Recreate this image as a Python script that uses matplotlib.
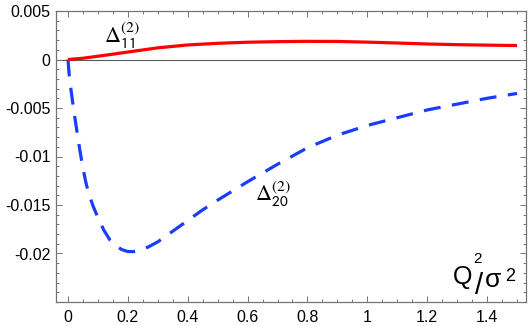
import matplotlib
matplotlib.use("Agg")
import matplotlib.pyplot as plt
from matplotlib.ticker import MultipleLocator, FuncFormatter

plt.rcParams['font.family'] = ['Liberation Sans', 'DejaVu Sans']
plt.rcParams['axes.unicode_minus'] = False
plt.rcParams['mathtext.fontset'] = 'stix'

# Data
x11 = [0, 0.05, 0.1, 0.15, 0.2, 0.3, 0.4, 0.5, 0.6, 0.7, 0.8, 0.9, 1.0,
       1.1, 1.2, 1.3, 1.4, 1.5]
d11 = [0, 0.00013, 0.00034, 0.00055, 0.00077, 0.0012, 0.0015, 0.00167,
       0.00178, 0.00184, 0.00187, 0.00186, 0.00179, 0.00170, 0.00160,
       0.00153, 0.00148, 0.00144]

x20 = [0, 0.005, 0.01, 0.02, 0.03, 0.04, 0.05, 0.06, 0.07, 0.085, 0.1, 0.12,
       0.14, 0.16, 0.18, 0.2, 0.22, 0.24, 0.27, 0.3, 0.35, 0.4, 0.45, 0.5,
       0.6, 0.7, 0.8, 0.9, 1.0, 1.1, 1.2, 1.3, 1.4, 1.5]
d20 = [0, -0.0019, -0.0031, -0.0054, -0.0074, -0.0094, -0.0112, -0.0127,
       -0.0139, -0.0152, -0.0163, -0.0176, -0.0186, -0.0192, -0.0196,
       -0.0198, -0.0198, -0.0197, -0.0193, -0.0188, -0.0177, -0.0166,
       -0.0155, -0.0145, -0.0126, -0.0108, -0.0091, -0.0078, -0.0068,
       -0.0060, -0.0052, -0.0046, -0.0040, -0.0035]

xticks = [0, 0.2, 0.4, 0.6, 0.8, 1.0, 1.2, 1.4]
yticks = [-0.02, -0.015, -0.01, -0.005, 0, 0.005]

fig = plt.figure(figsize=(5.28, 3.26), dpi=100)
ax = fig.add_axes([56/528, 1-302/326, (526-56)/528, (302-11)/326])

ax.axhline(0, color='0.35', lw=0.8, zorder=1)
ax.plot(x11, d11, color='#ff0000', lw=2.3, solid_capstyle='butt', zorder=3)
ln, = ax.plot(x20, d20, color='#1a3cff', lw=2.3, zorder=2)
ln.set_dashes((5.3, 3.6))

ax.set_xlim(-0.04, 1.53)
ax.set_ylim(-0.025, 0.005)

ax.set_xticks(xticks)
ax.set_yticks(yticks)
ax.xaxis.set_minor_locator(MultipleLocator(0.05))
ax.yaxis.set_minor_locator(MultipleLocator(0.001))

def fmt_x(v, p):
    return '%g' % round(v, 3)
def fmt_y(v, p):
    return '%g' % round(v, 4)
ax.xaxis.set_major_formatter(FuncFormatter(fmt_x))
ax.yaxis.set_major_formatter(FuncFormatter(fmt_y))

for sp in ax.spines.values():
    sp.set_color('0.45')
    sp.set_linewidth(0.9)

ax.tick_params(which='both', direction='in', top=True, right=True,
               color='0.45', width=0.7)
ax.tick_params(which='major', length=4.5, labelsize=11.5, pad=4)
ax.tick_params(which='minor', length=2.5)
ax.tick_params(axis='x', which='major', pad=6)

ax.text(0.122, 0.00168, r'$\Delta^{(2)}_{\mathsf{11}}$', fontsize=16,
        ha='left', va='baseline')
ax.text(0.626, -0.01457, r'$\Delta^{(2)}_{\mathsf{20}}$', fontsize=16,
        ha='left', va='baseline')

# Q^2 / sigma^2 axis label
ax.text(1.287, -0.02310, 'Q', fontsize=18, ha='left', va='baseline')
ax.text(1.354, -0.02093, '2', fontsize=11, ha='left', va='baseline')
ax.text(1.361, -0.02422, '/', fontsize=21, ha='left', va='baseline')
ax.text(1.394, -0.02349, 'σ', fontsize=19, ha='left', va='baseline')
ax.text(1.461, -0.02279, '2', fontsize=13, ha='left', va='baseline')

fig.savefig('out.png', dpi=100)
